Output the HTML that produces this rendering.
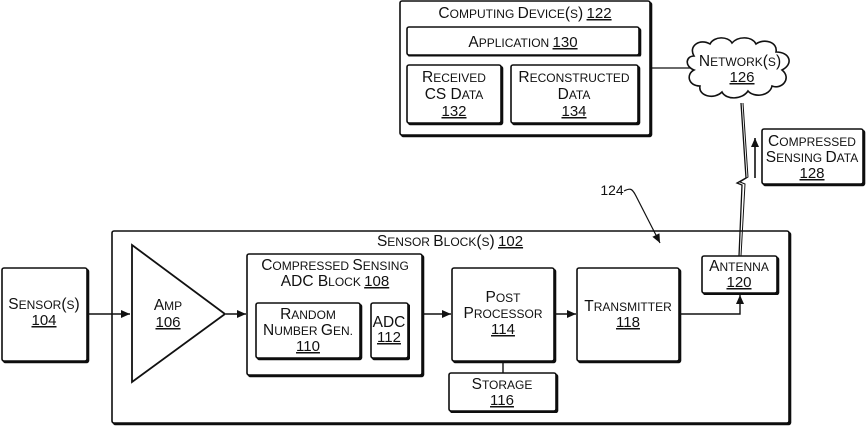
<!DOCTYPE html>
<html><head><meta charset="utf-8"><style>
html,body{margin:0;padding:0;background:#fff;}
svg{display:block;}
text{font-family:"Liberation Sans",sans-serif;font-size:12px;fill:#111;text-anchor:middle;}
.c{font-size:15.5px;}
.u{text-decoration:underline;font-size:15px;}
rect.b{fill:#fff;stroke:#111;stroke-width:1.6;filter:url(#sh);}
</style></head><body>
<svg width="866" height="426" viewBox="0 0 866 426" xmlns="http://www.w3.org/2000/svg">
<defs>
<filter id="sh" x="-5%" y="-5%" width="110%" height="110%"><feDropShadow dx="1.5" dy="1.5" stdDeviation="0" flood-color="#111"/></filter>
<marker id="ar" markerWidth="10" markerHeight="10" refX="9" refY="5" orient="auto" markerUnits="userSpaceOnUse"><path d="M0,1 L9,5 L0,9 Z" fill="#111"/></marker>
</defs>
<!-- Computing device -->
<rect class="b" x="400" y="1" width="250" height="134" rx="2"/>
<text x="525" y="18"><tspan class="c">C</tspan>OMPUTING <tspan class="c">D</tspan>EVICE<tspan class="c">(</tspan>S<tspan class="c">)</tspan> <tspan class="u">122</tspan></text>
<rect class="b" x="407" y="27" width="232" height="28" rx="2"/>
<text x="523" y="47"><tspan class="c">A</tspan>PPLICATION <tspan class="u">130</tspan></text>
<rect class="b" x="407" y="65" width="94" height="58" rx="2"/>
<text x="454" y="82"><tspan class="c">R</tspan>ECEIVED</text><text x="454" y="99"><tspan class="c">CS D</tspan>ATA</text><text x="454" y="116" class="u">132</text>
<rect class="b" x="511" y="65" width="127" height="58" rx="2"/>
<text x="574" y="82"><tspan class="c">R</tspan>ECONSTRUCTED</text><text x="574" y="99"><tspan class="c">D</tspan>ATA</text><text x="574" y="116" class="u">134</text>
<line x1="652" y1="68" x2="690" y2="68" stroke="#111" stroke-width="1.3"/>
<!-- cloud -->
<path d="M694,56 C688,46 700,38 710,44 C714,36 728,36 732,43 C738,36 752,36 756,44 C764,38 778,42 776,52 C790,52 794,64 782,70 C792,78 782,90 772,86 C770,96 754,98 748,91 C742,100 726,100 722,92 C714,100 698,96 700,86 C688,86 686,74 694,70 C684,66 686,56 694,56 Z" fill="#fff" stroke="#111" stroke-width="1.6"/>
<text x="740" y="66"><tspan class="c">N</tspan>ETWORK<tspan class="c">(</tspan>S<tspan class="c">)</tspan></text>
<text x="742" y="82" class="u">126</text>
<line x1="755" y1="178" x2="755" y2="138" stroke="#111" stroke-width="1.6" marker-end="url(#ar)"/>
<rect class="b" x="762" y="129" width="101" height="55" rx="2"/>
<text x="812" y="146"><tspan class="c">C</tspan>OMPRESSED</text><text x="812" y="162"><tspan class="c">S</tspan>ENSING <tspan class="c">D</tspan>ATA</text><text x="812" y="178" class="u">128</text>
<!-- Sensor block -->
<rect class="b" x="112" y="231" width="677" height="192" rx="2"/>
<text x="450" y="246"><tspan class="c">S</tspan>ENSOR <tspan class="c">B</tspan>LOCK<tspan class="c">(</tspan>S<tspan class="c">)</tspan> <tspan class="u">102</tspan></text>
<!-- lightning -->
<polyline points="741,103 746,178 737,183 742,185 739,256" fill="none" stroke="#111" stroke-width="1.3"/>
<polyline points="743,103 748,177 740,182 745,184 741,256" fill="none" stroke="#111" stroke-width="1"/>
<!-- 124 -->
<text x="612" y="195" style="font-size:14px">124</text>
<path d="M624,191 C630,188 632,188 636,196 L660,243" fill="none" stroke="#111" stroke-width="1.2" marker-end="url(#ar)"/>
<!-- Sensor -->
<rect class="b" x="2" y="268" width="85" height="93" rx="2"/>
<text x="44" y="309"><tspan class="c">S</tspan>ENSOR<tspan class="c">(</tspan>S<tspan class="c">)</tspan></text><text x="44" y="325" class="u">104</text>
<line x1="88" y1="314" x2="130" y2="314" stroke="#111" stroke-width="1.4" marker-end="url(#ar)"/>
<!-- Amp -->
<polygon points="132,245 225,314 132,382" fill="#fff" stroke="#111" stroke-width="1.8"/>
<text x="168" y="310"><tspan class="c">A</tspan>MP</text><text x="168" y="327" class="u">106</text>
<line x1="226" y1="314" x2="246" y2="314" stroke="#111" stroke-width="1.4" marker-end="url(#ar)"/>
<!-- CS ADC block -->
<rect class="b" x="247" y="254" width="175" height="121" rx="2"/>
<text x="335" y="270"><tspan class="c">C</tspan>OMPRESSED <tspan class="c">S</tspan>ENSING</text><text x="335" y="286"><tspan class="c">ADC B</tspan>LOCK <tspan class="u">108</tspan></text>
<rect class="b" x="256" y="303" width="104" height="55" rx="2"/>
<text x="308" y="319"><tspan class="c">R</tspan>ANDOM</text><text x="308" y="335"><tspan class="c">N</tspan>UMBER <tspan class="c">G</tspan>EN.</text><text x="308" y="351" class="u">110</text>
<rect class="b" x="371" y="303" width="37" height="55" rx="2"/>
<text x="389" y="327" class="c">ADC</text><text x="389" y="342" class="u">112</text>
<line x1="423" y1="314" x2="451" y2="314" stroke="#111" stroke-width="1.4" marker-end="url(#ar)"/>
<!-- post processor -->
<rect class="b" x="452" y="268" width="102" height="93" rx="2"/>
<text x="503" y="302"><tspan class="c">P</tspan>OST</text><text x="503" y="318"><tspan class="c">P</tspan>ROCESSOR</text><text x="503" y="334" class="u">114</text>
<line x1="503" y1="362" x2="503" y2="373" stroke="#111" stroke-width="1.4"/>
<rect class="b" x="449" y="373" width="107" height="38" rx="2"/>
<text x="502" y="389"><tspan class="c">S</tspan>TORAGE</text><text x="502" y="405" class="u">116</text>
<line x1="555" y1="314" x2="576" y2="314" stroke="#111" stroke-width="1.4" marker-end="url(#ar)"/>
<!-- transmitter -->
<rect class="b" x="577" y="268" width="102" height="93" rx="2"/>
<text x="628" y="311"><tspan class="c">T</tspan>RANSMITTER</text><text x="628" y="327" class="u">118</text>
<polyline points="680,314 740,314 740,295" fill="none" stroke="#111" stroke-width="1.4" marker-end="url(#ar)"/>
<!-- antenna -->
<rect class="b" x="702" y="256" width="75" height="37" rx="2"/>
<text x="739" y="271"><tspan class="c">A</tspan>NTENNA</text><text x="739" y="287" class="u">120</text>
</svg>
</body></html>
